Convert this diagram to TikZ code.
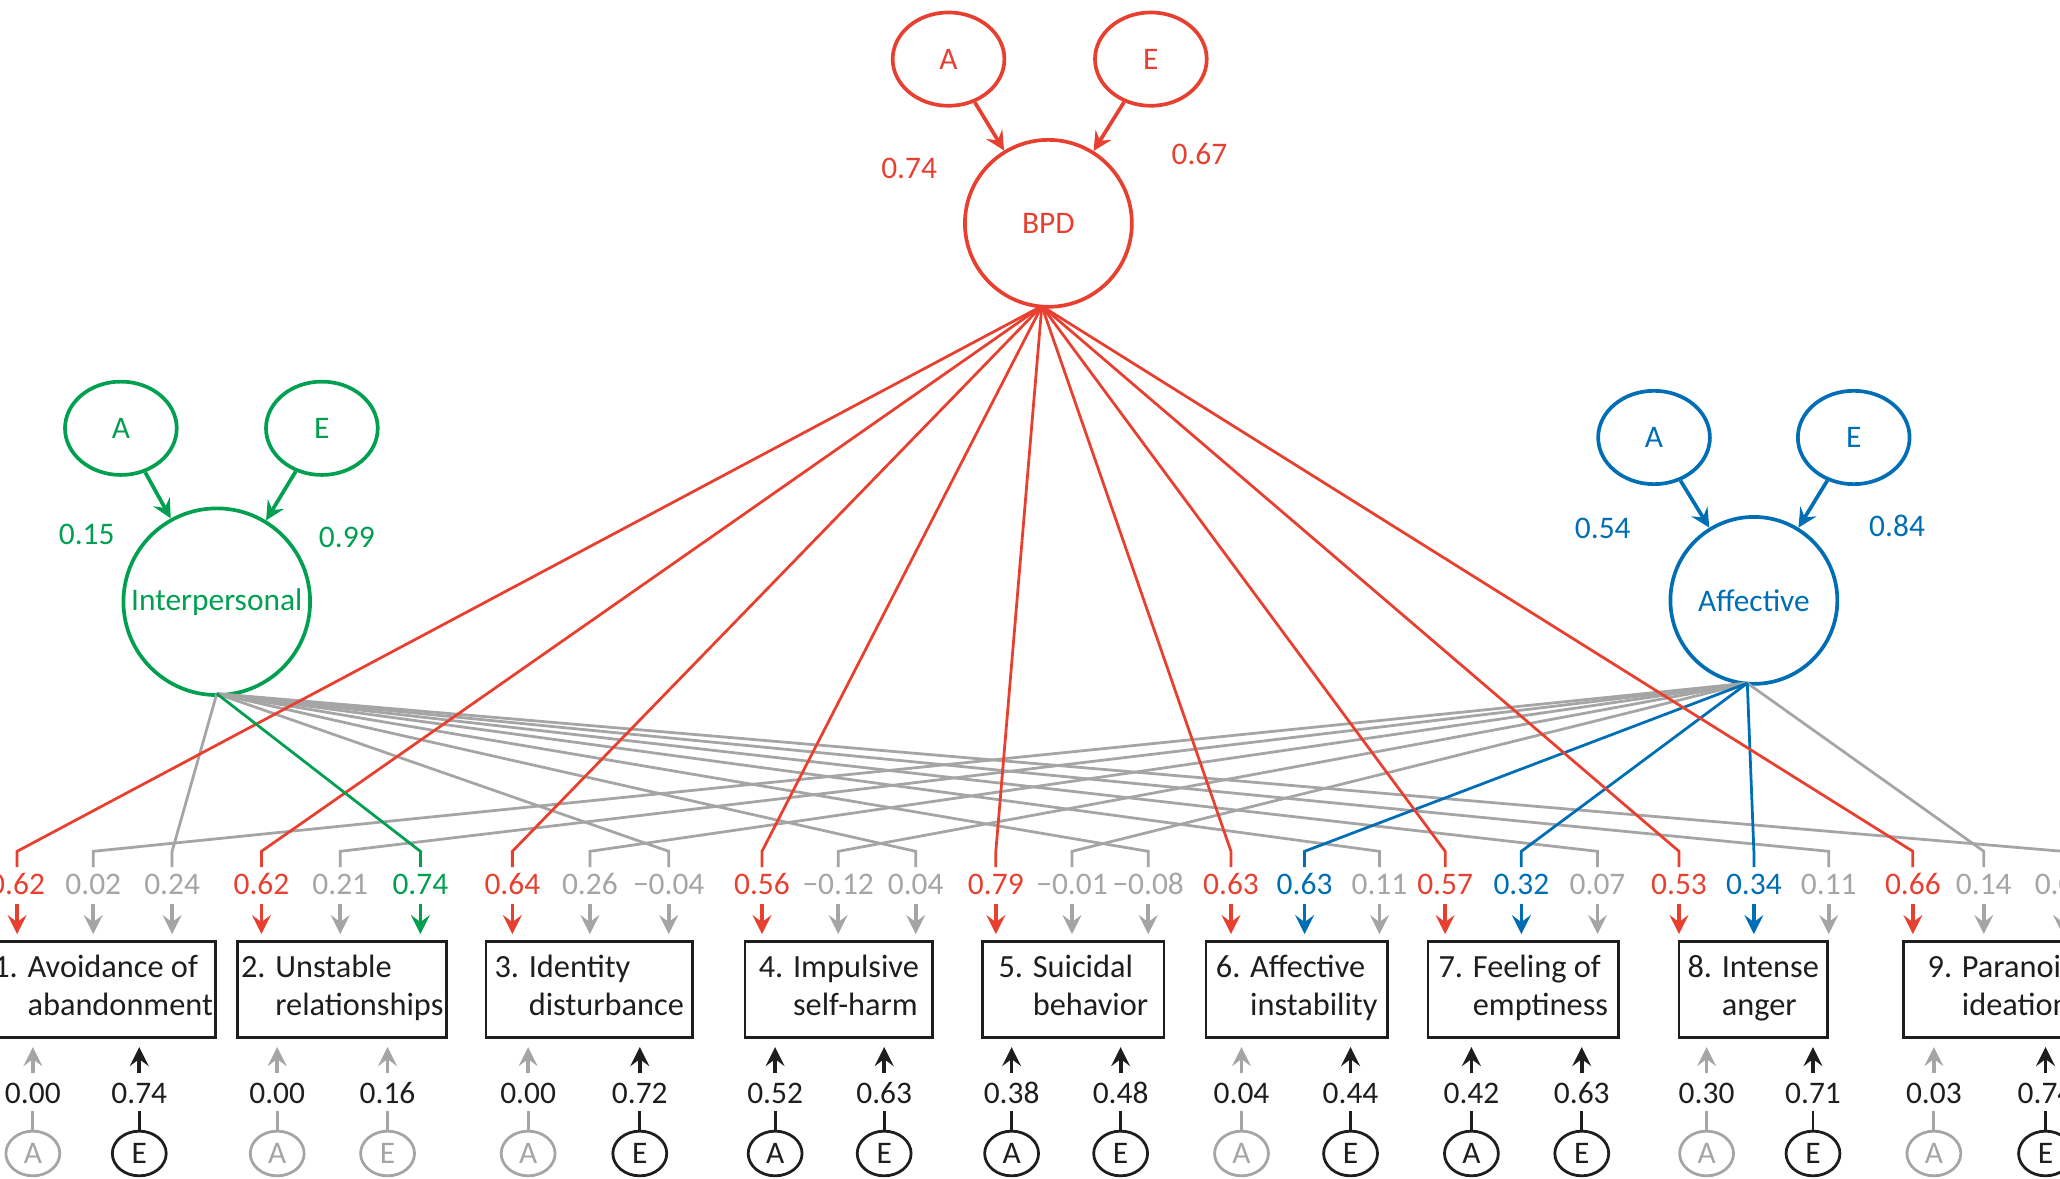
\documentclass[tikz,border=0pt]{standalone}
\usepackage{fontspec}
\setmainfont{Carlito}
\usetikzlibrary{arrows,shapes.geometric}
\definecolor{cr}{RGB}{232,64,48}
\definecolor{cg}{RGB}{0,160,80}
\definecolor{cb}{RGB}{0,110,180}
\definecolor{cy}{RGB}{165,165,165}
\definecolor{ck}{RGB}{30,30,30}

\begin{document}
\begin{tikzpicture}[x=0.01cm,y=-0.01cm]
\tikzstyle{every node}=[font=\fontsize{6.8}{7.8}\selectfont]
\tikzstyle{latent}=[draw,circle,thick,minimum size=1.27cm,inner sep=0pt]
\tikzstyle{ae}=[draw,ellipse,thick,minimum width=0.85cm,minimum height=0.71cm,inner sep=0pt]
\tikzstyle{small}=[draw,ellipse,semithick,minimum width=0.41cm,minimum height=0.34cm,inner sep=0pt]
\tikzstyle{item}=[draw,semithick,ck,text=ck,minimum height=0.73cm,align=left,inner sep=0.5pt,
  font=\fontsize{7}{8.2}\selectfont]
\tikzstyle{arrow}=[thick,-stealth]
\useasboundingbox (0,0) rectangle (1568,897);

%general factor
\node[latent,cr,text=cr] (bpd) at (798,170) {BPD};
\node[ae,cr,text=cr] (bpdA) at (722,45) {A};
\node[ae,cr,text=cr] (bpdE) at (876,45) {E};
\draw[arrow,cr] (bpdA) -- (bpd);
\draw[arrow,cr] (bpdE) -- (bpd);
\node[cr] at (692,128) {0.74};
\node[cr] at (913,117) {0.67};

%interpersonal factor
\node[latent,cg,text=cg,minimum size=1.42cm] (int) at (165,458) {Interpersonal};
\node[ae,cg,text=cg] (intA) at (92,326) {A};
\node[ae,cg,text=cg] (intE) at (245,326) {E};
\draw[arrow,cg] (intA) -- (int);
\draw[arrow,cg] (intE) -- (int);
\node[cg] at (66,407) {0.15};
\node[cg] at (264,409) {0.99};

%affective factor
\node[latent,cb,text=cb] (aff) at (1335,457) {Affective};
\node[ae,cb,text=cb] (affA) at (1259,333) {A};
\node[ae,cb,text=cb] (affE) at (1411,333) {E};
\draw[arrow,cb] (affA) -- (aff);
\draw[arrow,cb] (affE) -- (aff);
\node[cb] at (1220,402) {0.54};
\node[cb] at (1444,400) {0.84};

\coordinate (bpdS) at (793,233);
\coordinate (intS) at (165,528);
\coordinate (affS) at (1330,520);

%items
\foreach \n/\xl/\xr/\ta/\tb in {1/0/157/{1. Avoidance of}/abandonment,
  2/181/340/{2. Unstable}/relationships, 3/370/527/{3. Identity}/disturbance,
  4/567/710/{4. Impulsive}/self-harm, 5/748/886/{5. Suicidal}/behavior,
  6/918/1056/{6. Affective}/instability, 7/1087/1232/{7. Feeling of}/emptiness,
  8/1278/1391/{8. Intense}/anger, 9/1449/1600/{9. Paranoid}/ideation}
  \node[item,minimum width=(\xr-\xl)*0.01cm] (item\n) at ({(\xl+\xr)/2},753)
    {\strut\ta\\\phantom{\n. }\tb\strut};

%loadings: gray first, then coloured
\foreach \x/\v/\col/\src in {71/0.02/cy/affS, 131/0.24/cy/intS, 259/0.21/cy/affS,
  449/0.26/cy/affS, 509/−0.04/cy/intS, 638/−0.12/cy/affS, 697/0.04/cy/intS,
  816/−0.01/cy/affS, 874/−0.08/cy/intS, 1050/0.11/cy/intS, 1216/0.07/cy/intS,
  1392/0.11/cy/intS, 1510/0.14/cy/affS, 1570/0.06/cy/intS,
  13/0.62/cr/bpdS, 199/0.62/cr/bpdS, 320/0.74/cg/intS, 390/0.64/cr/bpdS,
  580/0.56/cr/bpdS, 758/0.79/cr/bpdS, 937/0.63/cr/bpdS, 993/0.63/cb/affS,
  1100/0.57/cr/bpdS, 1158/0.32/cb/affS, 1278/0.53/cr/bpdS, 1335/0.34/cb/affS,
  1456/0.66/cr/bpdS}
{
  \coordinate (k) at (\x,660);
  \draw[\col,semithick] (\src) -- (\x,648) -- (k);
  \node[\col] (v) at (\x,673) {\v};
  \draw[arrow,\col] (\x,688) -- (\x,711);
}

%item-specific A and E
\foreach \x/\v/\col/\l in {25/0.00/cy/A, 106/0.74/ck/E, 211/0.00/cy/A, 295/0.16/cy/E,
  402/0.00/cy/A, 487/0.72/ck/E, 590/0.52/ck/A, 673/0.63/ck/E, 770/0.38/ck/A,
  853/0.48/ck/E, 945/0.04/cy/A, 1028/0.44/ck/E, 1120/0.42/ck/A, 1204/0.63/ck/E,
  1299/0.30/cy/A, 1380/0.71/ck/E, 1472/0.03/cy/A, 1557/0.74/ck/E}
{
  \node[small,\col,text=\col] (s) at (\x,878) {\l};
  \draw[\col,semithick] (s.north) -- ++(0,-14);
  \node[ck] at (\x,832) {\v};
  \draw[arrow,\col] (\x,817) -- (\x,797);
}
\end{tikzpicture}
\end{document}
